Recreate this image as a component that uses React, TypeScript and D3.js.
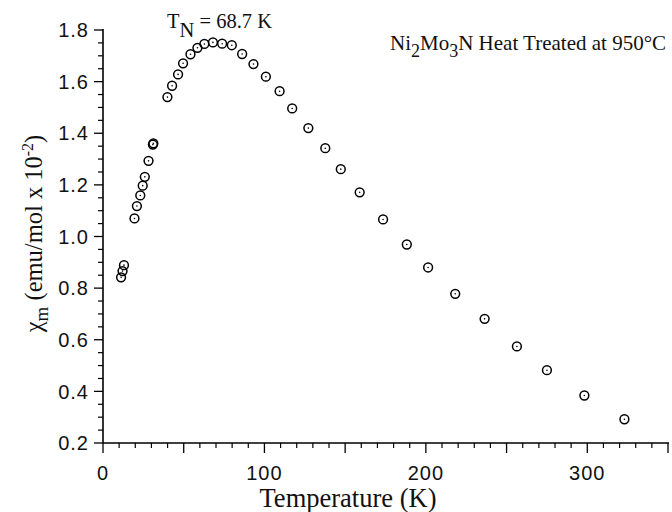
import React from "react";
import * as d3 from "d3";

const temperature = [
  11.2, 12.1, 13.0, 19.5, 21.0, 23.1, 24.6, 25.9, 28.2, 30.9, 31.2,
  39.9, 42.8, 46.5, 49.6, 54.2, 58.5, 62.8, 68.1, 73.8, 79.8, 86.2,
  93.2, 100.9, 109.4, 117.2, 127.2, 137.7, 147.3, 159.0, 173.5, 188.2,
  201.4, 218.2, 236.4, 256.4, 275.0, 298.2, 323.0,
];
const chi = [
  0.842, 0.866, 0.889, 1.07, 1.118, 1.159, 1.197, 1.231, 1.293, 1.356, 1.361,
  1.54, 1.584, 1.628, 1.671, 1.706, 1.731, 1.746, 1.752, 1.747, 1.741, 1.707,
  1.668, 1.619, 1.563, 1.496, 1.42, 1.342, 1.261, 1.171, 1.066, 0.969,
  0.88, 0.778, 0.681, 0.574, 0.482, 0.384, 0.292,
];
const xMajorTicks = [0, 50, 100, 150, 200, 250, 300, 350];
const xLabelTicks = [0, 100, 200, 300];
const yMajorTicks = [0.2, 0.4, 0.6, 0.8, 1.0, 1.2, 1.4, 1.6, 1.8];

const W = 672;
const H = 512;
const left = 103;
const right = 668;
const top = 30;
const bottom = 443;

export default function App() {
  const x = d3.scaleLinear().domain([0, 350]).range([left, right]);
  const y = d3.scaleLinear().domain([0.2, 1.8]).range([bottom, top]);
  const xMinor = d3.range(0, 351, 10).filter((v) => v % 50 !== 0);
  const yMinor = d3.range(0, 33).map((i) => 0.2 + i * 0.05).filter((_, i) => i % 4 !== 0);
  const serif = "'Liberation Serif', 'Times New Roman', serif";
  const sans = "'Liberation Sans', Arial, sans-serif";
  const pts = temperature.map((t, i) => ({ t, c: chi[i] }));

  return (
    <svg width={W} height={H} style={{ position: "absolute", left: 0, top: 0, background: "#fff" }}>
      <rect x={0} y={0} width={W} height={H} fill="#fff" />
      {/* axes lines */}
      <line x1={left} y1={top - 1} x2={left} y2={bottom} stroke="#000" strokeWidth={1.6} />
      <line x1={left} y1={bottom} x2={right + 1} y2={bottom} stroke="#000" strokeWidth={1.6} />
      {/* y ticks */}
      {yMajorTicks.map((v) => (
        <g key={"ym" + v}>
          <line x1={left - 9} x2={left} y1={y(v)} y2={y(v)} stroke="#000" strokeWidth={1.3} />
          <text x={89} y={y(v)} dy="0.36em" textAnchor="end" fontFamily={sans} fontSize={20} letterSpacing={1} fill="#111">
            {d3.format(".1f")(v)}
          </text>
        </g>
      ))}
      {yMinor.map((v, i) => (
        <line key={"yn" + i} x1={left - 5} x2={left} y1={y(v)} y2={y(v)} stroke="#000" strokeWidth={1.2} />
      ))}
      {/* x ticks */}
      {xMajorTicks.map((v) => (
        <line key={"xm" + v} x1={x(v)} x2={x(v)} y1={bottom} y2={bottom + 10} stroke="#000" strokeWidth={1.3} />
      ))}
      {xMinor.map((v) => (
        <line key={"xn" + v} x1={x(v)} x2={x(v)} y1={bottom} y2={bottom + 5} stroke="#000" strokeWidth={1.2} />
      ))}
      {xLabelTicks.map((v) => (
        <text key={"xl" + v} x={x(v)} y={480} textAnchor="middle" fontFamily={sans} fontSize={20} letterSpacing={1} fill="#111">
          {v}
        </text>
      ))}
      {/* axis titles */}
      <text x={348} y={507} textAnchor="middle" fontFamily={serif} fontSize={26.5} fill="#111">
        Temperature (K)
      </text>
      <text transform={`translate(42,${(130 + 337) / 2}) rotate(-90)`} textAnchor="middle" fontFamily={serif} fontSize={24.5} fill="#111">
        χ<tspan fontSize={19} dy={6}>m</tspan>
        <tspan dy={-6}> (emu/mol x 10</tspan>
        <tspan fontSize={16} dy={-9}>-2</tspan>
        <tspan dy={9}>)</tspan>
      </text>
      {/* annotations */}
      <text x={167} y={28} fontFamily={serif} fontSize={20.5} fill="#111">
        T<tspan dy={9}>N</tspan>
        <tspan dy={-9}> = 68.7 K</tspan>
      </text>
      <text x={390} y={50} fontFamily={serif} fontSize={21} fill="#111">
        Ni<tspan fontSize={18} dy={7}>2</tspan>
        <tspan dy={-7}>Mo</tspan>
        <tspan fontSize={18} dy={7}>3</tspan>
        <tspan dy={-7}>N Heat Treated at 950°C</tspan>
      </text>
      {/* data */}
      {pts.map((p, i) => (
        <g key={"p" + i}>
          <circle cx={x(p.t)} cy={y(p.c)} r={4.4} fill="none" stroke="#000" strokeWidth={1.5} />
          <circle cx={x(p.t)} cy={y(p.c)} r={0.8} fill="#000" />
        </g>
      ))}
    </svg>
  );
}
